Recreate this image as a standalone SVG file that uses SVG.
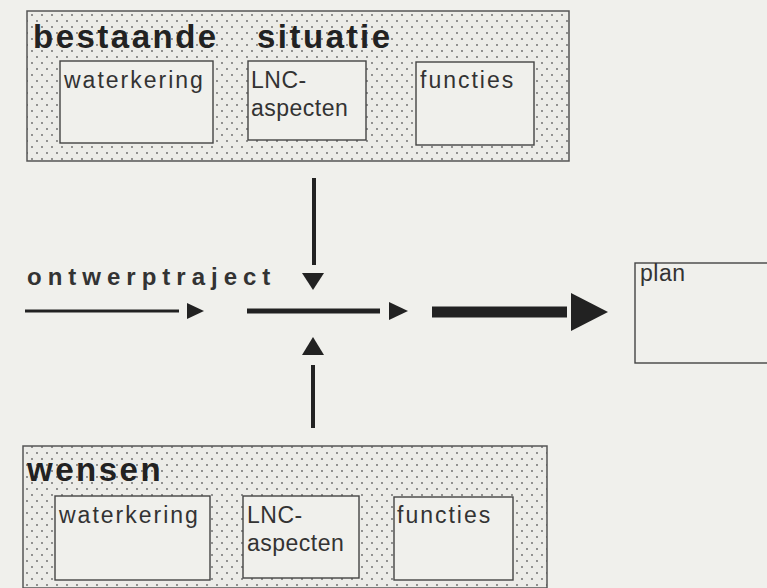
<svg xmlns="http://www.w3.org/2000/svg" width="767" height="588" viewBox="0 0 767 588">
<defs>
<pattern id="stip" width="10" height="12" patternUnits="userSpaceOnUse">
<rect width="10" height="12" fill="#ecece8"/>
<circle cx="2" cy="3" r="0.9" fill="#666"/>
<circle cx="7" cy="9" r="0.9" fill="#666"/>
</pattern>
<style>
.outer{fill:url(#stip);stroke:#555;stroke-width:1.5}
.inner{fill:#f0f0ec;stroke:#444;stroke-width:1.4}
.head{font-family:"Liberation Sans",Arial,sans-serif;font-weight:bold;font-size:33px;letter-spacing:2.5px;fill:#222}
.lbl{font-family:"Liberation Sans",Arial,sans-serif;font-size:23px;letter-spacing:2px;fill:#333}
.lbl2{font-family:"Liberation Sans",Arial,sans-serif;font-size:23px;letter-spacing:0.5px;fill:#333}
.traj{font-family:"Liberation Sans",Arial,sans-serif;font-weight:bold;font-size:24px;letter-spacing:6px;fill:#333}
.ln{stroke:#222;fill:none}
.hd{fill:#222}
</style>
</defs>
<rect width="767" height="588" fill="#f0f0ec"/>
<g id="bestaande-situatie">
<rect class="outer" x="27" y="11" width="542" height="150"/>
<text class="head" x="33" y="48"><tspan>bestaande</tspan><tspan x="257">situatie</tspan></text>
<rect class="inner" x="60" y="61" width="153" height="82"/>
<text class="lbl" x="64" y="88">waterkering</text>
<rect class="inner" x="248" y="61" width="118" height="79"/>
<text class="lbl2" x="251" y="88">LNC-</text>
<text class="lbl2" x="251" y="116">aspecten</text>
<rect class="inner" x="416" y="62" width="118" height="83"/>
<text class="lbl" x="420" y="88">functies</text>
</g>
<g id="wensen">
<rect class="outer" x="23" y="446" width="524" height="142"/>
<text class="head" x="27" y="481">wensen</text>
<rect class="inner" x="55" y="496" width="155" height="84"/>
<text class="lbl" x="59" y="523">waterkering</text>
<rect class="inner" x="243" y="496" width="116" height="82"/>
<text class="lbl2" x="247" y="523">LNC-</text>
<text class="lbl2" x="247" y="551">aspecten</text>
<rect class="inner" x="394" y="497" width="119" height="83"/>
<text class="lbl" x="397" y="523">functies</text>
</g>
<g id="plan">
<rect class="inner" x="635" y="263" width="140" height="100"/>
<text class="lbl2" x="640" y="281">plan</text>
</g>
<g id="ontwerptraject">
<text class="traj" x="27" y="285">ontwerptraject</text>
</g>
<g id="connectors">
<line class="ln" x1="25" y1="311" x2="179" y2="311" stroke-width="3"/>
<polygon class="hd" points="187,303 204,311 187,319"/>
<line class="ln" x1="247" y1="311" x2="380" y2="311" stroke-width="5"/>
<polygon class="hd" points="389,302 408,311 389,320"/>
<line class="ln" x1="432" y1="312" x2="567" y2="312" stroke-width="11"/>
<polygon class="hd" points="571,293 608,312 571,331"/>
<line class="ln" x1="314" y1="178" x2="314" y2="265" stroke-width="4"/>
<polygon class="hd" points="302,273 324,273 313,290"/>
<line class="ln" x1="313" y1="365" x2="313" y2="428" stroke-width="4"/>
<polygon class="hd" points="302,355 324,355 313,337"/>
</g>
</svg>
